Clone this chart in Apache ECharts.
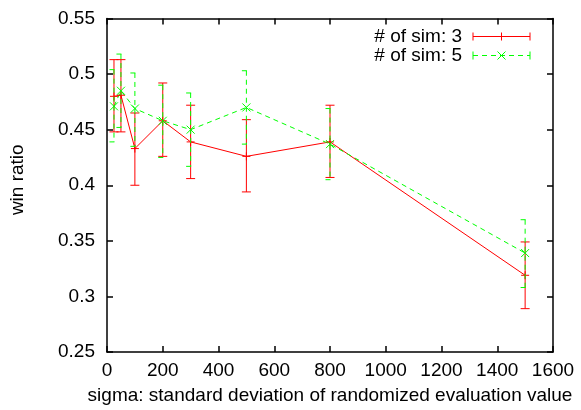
<!DOCTYPE html>
<html>
<head>
<meta charset="utf-8">
<script src="https://cdn.jsdelivr.net/npm/echarts@6/dist/echarts.min.js"></script>
<style>html,body{margin:0;padding:0;background:#fff}#c{width:581px;height:410px}</style>
</head>
<body>
<div id="c"></div>
<script>
const sigma = [25, 50, 100, 200, 300, 500, 800, 1500];
const sim3 = [0.480, 0.481, 0.433, 0.458, 0.439, 0.426, 0.439, 0.319];
const sim3Low = [0.448, 0.448, 0.400, 0.426, 0.406, 0.394, 0.407, 0.289];
const sim3High = [0.513, 0.513, 0.465, 0.492, 0.472, 0.459, 0.472, 0.349];
const sim5 = [0.471, 0.485, 0.469, 0.458, 0.450, 0.470, 0.437, 0.339];
const sim5Low = [0.439, 0.452, 0.435, 0.425, 0.417, 0.437, 0.405, 0.308];
const sim5High = [0.504, 0.518, 0.501, 0.490, 0.483, 0.503, 0.469, 0.369];
const xTickLabels = ['0', '200', '400', '600', '800', '1000', '1200', '1400', '1600'];
const yTickLabels = ['0.25', '0.3', '0.35', '0.4', '0.45', '0.5', '0.55'];
const names = ['# of sim: 3', '# of sim: 5'];

const FONT = 'Liberation Sans';
const FS = 19;
const RED = '#ff0000', GREEN = '#00ff00';

function rows(v, lo, hi) { return sigma.map((x, i) => [x, v[i], lo[i], hi[i]]); }

function errRender(color, dash, marker) {
  return function (params, api) {
    const x = api.value(0), y = api.value(1), lo = api.value(2), hi = api.value(3);
    const p = api.coord([x, y]);
    const a = api.coord([x, hi]);
    const b = api.coord([x, lo]);
    const cw = 4.5, m = 4;
    const st = { stroke: color, lineWidth: 1, lineDash: dash, fill: null };
    const line = (x1, y1, x2, y2, s) => ({ type: 'line', shape: { x1, y1, x2, y2 }, style: s || st });
    const solid = { stroke: color, lineWidth: 1, fill: null };
    const ch = [
      line(a[0], a[1], b[0], b[1]),
      line(a[0] - cw, a[1], a[0] + cw, a[1]),
      line(b[0] - cw, b[1], b[0] + cw, b[1])
    ];
    if (marker === 'plus') {
      ch.push(line(p[0] - m, p[1], p[0] + m, p[1], solid));
      ch.push(line(p[0], p[1] - m, p[0], p[1] + m, solid));
    } else {
      ch.push(line(p[0] - m, p[1] - m, p[0] + m, p[1] + m, solid));
      ch.push(line(p[0] - m, p[1] + m, p[0] + m, p[1] - m, solid));
    }
    return { type: 'group', children: ch };
  };
}

const axisCommon = {
  axisLine: { show: true, onZero: false, lineStyle: { color: '#000', width: 1.5 } },
  axisTick: { show: true, inside: true, length: 6, lineStyle: { color: '#000', width: 1.5 } },
  splitLine: { show: false }
};

const chart = echarts.init(document.getElementById('c'), null, { renderer: 'canvas' });
chart.setOption({
  animation: false,
  backgroundColor: '#fff',
  grid: { left: 107, right: 28, top: 18.5, bottom: 58 },
  xAxis: [
    Object.assign({
      type: 'value', min: 0, max: 1600, interval: 200, position: 'bottom',
      name: 'sigma: standard deviation of randomized evaluation value',
      nameLocation: 'middle', nameGap: 34,
      nameTextStyle: { fontFamily: FONT, fontSize: FS, color: '#000' },
      axisLabel: { fontFamily: FONT, fontSize: FS, color: '#000', margin: 9,
        formatter: (v) => xTickLabels[Math.round(v / 200)] }
    }, axisCommon),
    Object.assign({
      type: 'value', min: 0, max: 1600, interval: 200, position: 'top',
      axisLabel: { show: false }
    }, axisCommon)
  ],
  yAxis: [
    Object.assign({
      type: 'value', min: 0.25, max: 0.55, interval: 0.05, position: 'left',
      name: 'win ratio', nameLocation: 'middle', nameGap: 80,
      nameTextStyle: { fontFamily: FONT, fontSize: FS, color: '#000', padding: [0, 0, 0, 11] },
      axisLabel: { fontFamily: FONT, fontSize: FS, color: '#000', margin: 12,
        formatter: (v) => yTickLabels[Math.round((v - 0.25) / 0.05)] }
    }, axisCommon),
    Object.assign({
      type: 'value', min: 0.25, max: 0.55, interval: 0.05, position: 'right',
      axisLabel: { show: false }
    }, axisCommon)
  ],
  series: [
    { name: names[0], type: 'line', data: sigma.map((x, i) => [x, sim3[i]]), symbol: 'none',
      lineStyle: { color: RED, width: 1 }, z: 3 },
    { name: names[1], type: 'line', data: sigma.map((x, i) => [x, sim5[i]]), symbol: 'none',
      lineStyle: { color: GREEN, width: 1, type: [5, 4] }, z: 3 },
    { type: 'custom', data: rows(sim3, sim3Low, sim3High), renderItem: errRender(RED, null, 'plus'),
      encode: { x: 0, y: 1 }, z: 4 },
    { type: 'custom', data: rows(sim5, sim5Low, sim5High), renderItem: errRender(GREEN, [5, 4], 'x'),
      encode: { x: 0, y: 1 }, z: 4 }
  ],
  graphic: [
    { type: 'text', x: 462, y: 36.7, style: { text: names[0], fontFamily: FONT, fontSize: FS, fill: '#000', textAlign: 'right', textVerticalAlign: 'middle' } },
    { type: 'text', x: 462, y: 55.7, style: { text: names[1], fontFamily: FONT, fontSize: FS, fill: '#000', textAlign: 'right', textVerticalAlign: 'middle' } },
    { type: 'group', x: 473, y: 32.5, children: [
      { type: 'line', shape: { x1: 0, y1: 4, x2: 57, y2: 4 }, style: { stroke: RED, lineWidth: 1 } },
      { type: 'line', shape: { x1: 0, y1: 0, x2: 0, y2: 8 }, style: { stroke: RED, lineWidth: 1 } },
      { type: 'line', shape: { x1: 57, y1: 0, x2: 57, y2: 8 }, style: { stroke: RED, lineWidth: 1 } },
      { type: 'line', shape: { x1: 28.5, y1: 0, x2: 28.5, y2: 8 }, style: { stroke: RED, lineWidth: 1 } }
    ] },
    { type: 'group', x: 473, y: 51.5, children: [
      { type: 'line', shape: { x1: 0, y1: 4, x2: 57, y2: 4 }, style: { stroke: GREEN, lineWidth: 1, lineDash: [5, 4] } },
      { type: 'line', shape: { x1: 0, y1: 0, x2: 0, y2: 8 }, style: { stroke: GREEN, lineWidth: 1 } },
      { type: 'line', shape: { x1: 57, y1: 0, x2: 57, y2: 8 }, style: { stroke: GREEN, lineWidth: 1 } },
      { type: 'line', shape: { x1: 24.5, y1: 0, x2: 32.5, y2: 8 }, style: { stroke: GREEN, lineWidth: 1 } },
      { type: 'line', shape: { x1: 24.5, y1: 8, x2: 32.5, y2: 0 }, style: { stroke: GREEN, lineWidth: 1 } }
    ] }
  ]
});
</script>
</body>
</html>
